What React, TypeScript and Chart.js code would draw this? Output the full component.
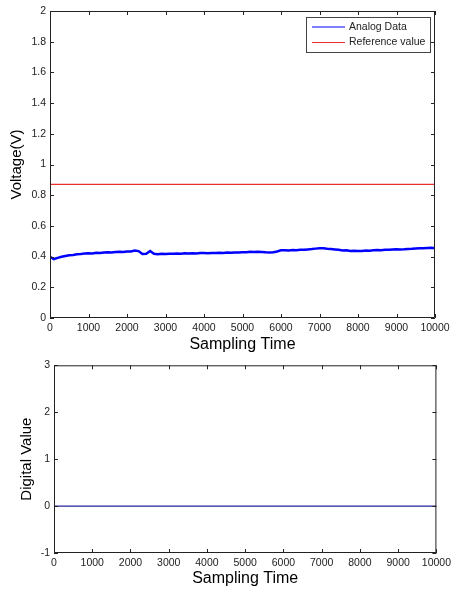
import React, { useEffect, useRef } from "react";
import { Chart, registerables } from "chart.js";

Chart.register(...registerables);

// ---- data ----
const sampleStep = 100;
const analogValues = [
  0.398, 0.384, 0.392, 0.399, 0.404, 0.409, 0.411, 0.415, 0.417, 0.420, 0.422,
  0.421, 0.425, 0.424, 0.427, 0.428, 0.427, 0.430, 0.431, 0.430, 0.433,
  0.434, 0.440, 0.436, 0.417, 0.418, 0.436, 0.418, 0.416, 0.419, 0.417,
  0.419, 0.418, 0.420, 0.419, 0.421, 0.420, 0.422, 0.421, 0.423, 0.424,
  0.422, 0.424, 0.423, 0.425, 0.424, 0.426, 0.425, 0.427, 0.426, 0.428,
  0.429, 0.431, 0.430, 0.432, 0.430, 0.428, 0.427, 0.429, 0.433, 0.441,
  0.442, 0.440, 0.443, 0.442, 0.445, 0.444, 0.447, 0.449, 0.452, 0.455,
  0.454, 0.451, 0.450, 0.447, 0.444, 0.440, 0.441, 0.437, 0.438, 0.436,
  0.437, 0.439, 0.438, 0.441, 0.443, 0.442, 0.444, 0.445, 0.447, 0.448,
  0.447, 0.448, 0.450, 0.451, 0.453, 0.454, 0.455, 0.456, 0.457, 0.455
];
const referenceTimes = [0, 10000];
const referenceValues = [0.87, 0.87];
const digitalTimes = [0, 1000, 2000, 3000, 4000, 5000, 6000, 7000, 8000, 9000, 10000];
const digitalValues = [0, 0, 0, 0, 0, 0, 0, 0, 0, 0, 0];
const seriesLabels = ["Analog Data", "Reference value"];

const FONT = "Arial, 'Liberation Sans', Helvetica, sans-serif";
const TEXT = "#222";
const AXIS = "#222";

const fmt = (v: any) => String(Number(Number(v).toFixed(2)));

const framePlugin = {
  id: "matFrame",
  afterDatasetsDraw(chart: any, _args: any, opts: any) {
    const { ctx, chartArea: a, scales } = chart;
    ctx.save();
    ctx.strokeStyle = AXIS;
    ctx.lineWidth = 1;
    ctx.beginPath();
    ctx.rect(a.left + 0.5, a.top + 0.5, a.right - a.left - 1, a.bottom - a.top - 1);
    const tl = 4;
    const xs = scales.x;
    xs.ticks.forEach((t: any) => {
      const px = Math.round(xs.getPixelForValue(t.value)) + 0.5;
      ctx.moveTo(px, a.bottom);
      ctx.lineTo(px, a.bottom - tl);
      ctx.moveTo(px, a.top);
      ctx.lineTo(px, a.top + tl);
    });
    const ys = scales.y;
    ys.ticks.forEach((t: any) => {
      const py = Math.round(ys.getPixelForValue(t.value)) + 0.5;
      ctx.moveTo(a.left, py);
      ctx.lineTo(a.left + tl, py);
      ctx.moveTo(a.right, py);
      ctx.lineTo(a.right - tl, py);
    });
    ctx.stroke();

    if (opts && opts.legend) {
      const bx = a.left + 256, by = a.top + 6, bw = 124, bh = 35;
      ctx.fillStyle = "#fff";
      ctx.fillRect(bx, by, bw, bh);
      ctx.strokeStyle = "#444";
      ctx.strokeRect(bx + 0.5, by + 0.5, bw, bh);
      ctx.font = `10.5px ${FONT}`;
      ctx.textBaseline = "middle";
      ctx.textAlign = "left";
      chart.data.datasets.forEach((ds: any, i: number) => {
        const ly = by + 10 + i * 15.5;
        ctx.strokeStyle = ds.borderColor;
        ctx.lineWidth = 1;
        ctx.beginPath();
        ctx.moveTo(bx + 6, ly);
        ctx.lineTo(bx + 39, ly);
        ctx.stroke();
        ctx.fillStyle = TEXT;
        ctx.fillText(ds.label, bx + 43, ly);
      });
    }
    ctx.restore();
  },
};

function makeOptions(cfg: {
  ymin: number; ymax: number; ystep: number; ytitle: string;
  yWidth: number; xHeight: number; pad: any; yTitlePad: number; legend: boolean;
}) {
  return {
    responsive: false,
    animation: false,
    devicePixelRatio: 1,
    layout: { padding: cfg.pad },
    plugins: {
      legend: { display: false },
      tooltip: { enabled: false },
      matFrame: { legend: cfg.legend },
    },
    scales: {
      x: {
        type: "linear",
        min: 0,
        max: 10000,
        grid: { display: false, drawTicks: false, tickLength: 0 },
        border: { display: false },
        ticks: {
          stepSize: 1000,
          autoSkip: false,
          maxRotation: 0,
          padding: 4,
          color: TEXT,
          font: { family: FONT, size: 10.5 },
          callback: (v: any) => fmt(v),
        },
        title: {
          display: true,
          text: "Sampling Time",
          color: "#000",
          font: { family: FONT, size: 16 },
          padding: { top: 0, bottom: 1 },
        },
        afterFit: (s: any) => { s.height = cfg.xHeight; },
      },
      y: {
        type: "linear",
        min: cfg.ymin,
        max: cfg.ymax,
        grid: { display: false, drawTicks: false, tickLength: 0 },
        border: { display: false },
        ticks: {
          stepSize: cfg.ystep,
          autoSkip: false,
          padding: 4,
          color: TEXT,
          font: { family: FONT, size: 10.5 },
          callback: (v: any) => fmt(v),
        },
        title: {
          display: true,
          text: cfg.ytitle,
          color: "#000",
          font: { family: FONT, size: 15 },
          padding: { top: cfg.yTitlePad, bottom: 0 },
        },
        afterFit: (s: any) => { s.width = cfg.yWidth; },
      },
    },
  };
}

export default function App() {
  const topRef = useRef<HTMLCanvasElement | null>(null);
  const botRef = useRef<HTMLCanvasElement | null>(null);

  useEffect(() => {
    const analogData = analogValues.map((v, i) => ({ x: i * sampleStep, y: v }));
    const refData = referenceTimes.map((t, i) => ({ x: t, y: referenceValues[i] }));
    const digData = digitalTimes.map((t, i) => ({ x: t, y: digitalValues[i] }));

    const top = new Chart(topRef.current as HTMLCanvasElement, {
      type: "line",
      data: {
        datasets: [
          {
            label: seriesLabels[0],
            data: analogData,
            borderColor: "#0000ff",
            borderWidth: 2.5,
            pointRadius: 0,
            tension: 0,
          },
          {
            label: seriesLabels[1],
            data: refData,
            borderColor: "#e8302c",
            borderWidth: 1.2,
            pointRadius: 0,
          },
        ],
      },
      options: makeOptions({
        ymin: 0, ymax: 2, ystep: 0.2, ytitle: "Voltage(V)",
        yWidth: 50, xHeight: 37, pad: { top: 11, right: 20, left: 0, bottom: 0 },
        yTitlePad: 8, legend: true,
      }) as any,
      plugins: [framePlugin],
    });

    const bot = new Chart(botRef.current as HTMLCanvasElement, {
      type: "line",
      data: {
        datasets: [
          {
            label: "Digital Value",
            data: digData,
            borderColor: "#23239a",
            borderWidth: 1.3,
            pointRadius: 0,
          },
        ],
      },
      options: makeOptions({
        ymin: -1, ymax: 3, ystep: 1, ytitle: "Digital Value",
        yWidth: 54, xHeight: 36, pad: { top: 8, right: 18, left: 0, bottom: 0 },
        yTitlePad: 18, legend: false,
      }) as any,
      plugins: [framePlugin],
    });

    return () => {
      top.destroy();
      bot.destroy();
    };
  }, []);

  return (
    <div style={{ position: "absolute", left: 0, top: 0, width: 455, height: 589, background: "#fff" }}>
      <canvas ref={topRef} width={455} height={355} style={{ position: "absolute", left: 0, top: 0, display: "block" }} />
      <canvas ref={botRef} width={455} height={234} style={{ position: "absolute", left: 0, top: 355, display: "block" }} />
    </div>
  );
}
